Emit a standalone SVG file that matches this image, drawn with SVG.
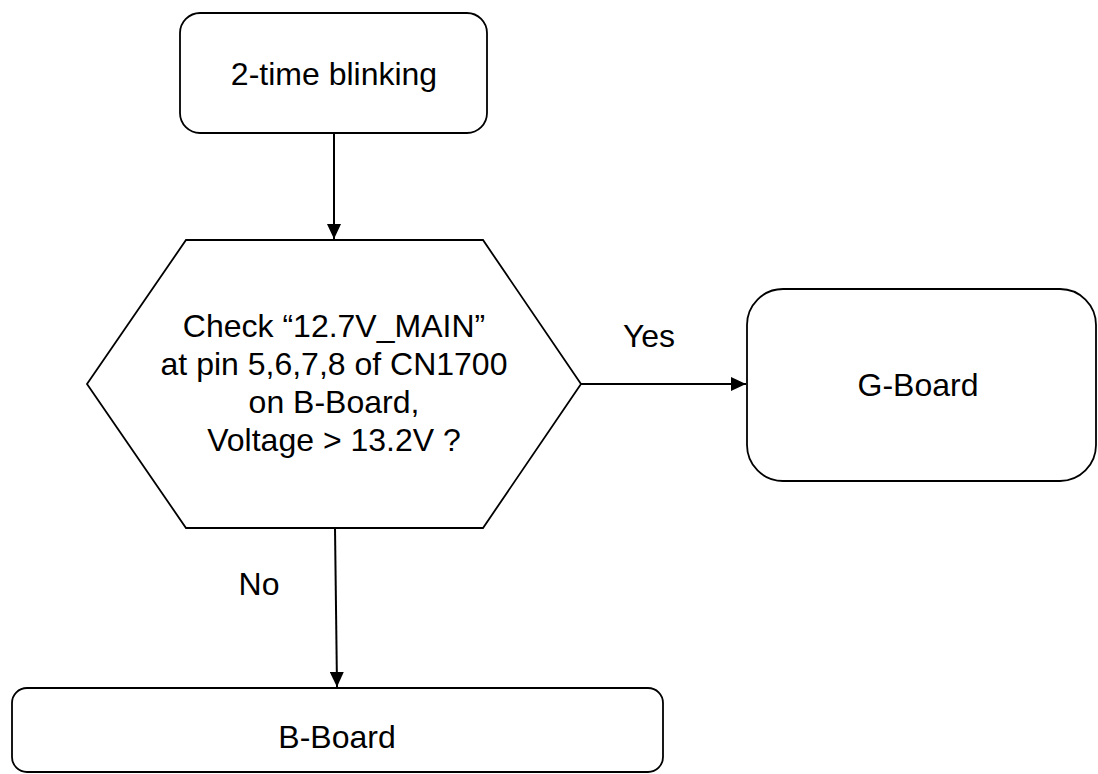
<svg xmlns="http://www.w3.org/2000/svg" width="1098" height="774" viewBox="0 0 1098 774">
  <defs>
    <style>
      .shape { fill: #ffffff; stroke: #000000; stroke-width: 1.8; }
      .conn { fill: none; stroke: #000000; stroke-width: 2; }
      .lbl { font-family: "Liberation Sans", Arial, sans-serif; font-size: 32px; fill: #000000; text-anchor: middle; }
    </style>
    <marker id="arrow" viewBox="0 0 15 14" refX="15" refY="7" markerWidth="7.5" markerHeight="7" orient="auto" markerUnits="strokeWidth">
      <path d="M0,0 L15,7 L0,14 Z" fill="#000000"/>
    </marker>
  </defs>
  <rect width="1098" height="774" fill="#ffffff"/>

  <g id="connectors">
    <line class="conn" x1="334" y1="133" x2="334" y2="239" marker-end="url(#arrow)"/>
    <line class="conn" x1="581" y1="384" x2="746" y2="384" marker-end="url(#arrow)"/>
    <line class="conn" x1="335" y1="528" x2="337" y2="687" marker-end="url(#arrow)"/>
    <text class="lbl" x="649" y="347">Yes</text>
    <text class="lbl" x="259" y="595">No</text>
  </g>

  <g id="start">
    <rect class="shape" x="180" y="13" width="307" height="120" rx="20" ry="20"/>
    <text class="lbl" x="334" y="85">2-time blinking</text>
  </g>

  <g id="decision">
    <polygon class="shape" points="186,240 483,240 581,384 483,528 186,528 87,384"/>
    <text class="lbl" x="334" y="337">Check “12.7V_MAIN”</text>
    <text class="lbl" x="334" y="375">at pin 5,6,7,8 of CN1700</text>
    <text class="lbl" x="334" y="413">on B-Board,</text>
    <text class="lbl" x="334" y="451">Voltage &gt; 13.2V ?</text>
  </g>

  <g id="gboard">
    <rect class="shape" x="747" y="289" width="349" height="192" rx="36" ry="36"/>
    <text class="lbl" x="918" y="396">G-Board</text>
  </g>

  <g id="bboard">
    <rect class="shape" x="12" y="688" width="651" height="84" rx="15" ry="15"/>
    <text class="lbl" x="337" y="748">B-Board</text>
  </g>
</svg>
